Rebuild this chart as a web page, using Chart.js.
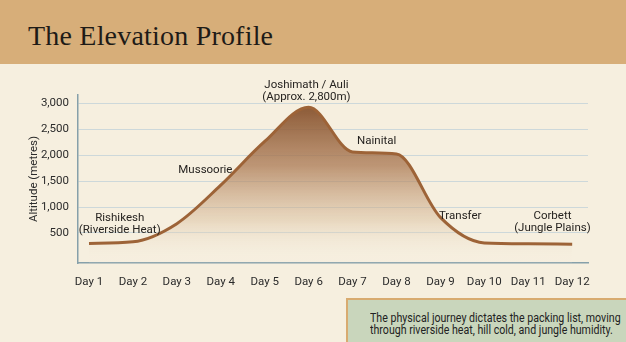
<!DOCTYPE html>
<html lang="en">
<head>
  <meta charset="UTF-8">
  <title>The Elevation Profile</title>
  <script src="https://cdn.jsdelivr.net/npm/chart.js"></script>
  <style>
    html, body { margin: 0; padding: 0; }
    body { width: 626px; height: 342px; position: relative; overflow: hidden; background: #f6efdf; font-family: Roboto, sans-serif; }
    .header { position: absolute; left: 0; top: 0; width: 626px; height: 64px; background: #d7ae79; }
    .header h1 { margin: 0; position: absolute; left: 28px; top: 20px; font-family: "Liberation Serif", serif; font-weight: normal; font-size: 28px; color: #1e1b17; letter-spacing: 0.2px; }
    #wrap { position: absolute; left: 0; top: 0; width: 626px; height: 342px; }
    .note { position: absolute; left: 346px; top: 298px; width: 290px; height: 50px; background: #c9d6bc; border-top: 2px solid #d8ab70; border-left: 2px solid #d8ab70; box-sizing: border-box; padding: 13px 0 0 22px; color: #222; }
    .note span { display: block; white-space: nowrap; font-size: 12px; line-height: 11.5px; transform: scaleX(0.885); transform-origin: left top; }
  </style>
</head>
<body>
  <div class="header"><h1>The Elevation Profile</h1></div>
  <div id="wrap"><canvas id="elevationChart" width="626" height="342"></canvas></div>
  <div class="note"><span>The physical journey dictates the packing list, moving<br>through riverside heat, hill cold, and jungle humidity.</span></div>

  <script>
    const days = ['Day 1', 'Day 2', 'Day 3', 'Day 4', 'Day 5', 'Day 6', 'Day 7', 'Day 8', 'Day 9', 'Day 10', 'Day 11', 'Day 12'];
    const altitude = [300, 330, 680, 1420, 2260, 2920, 2060, 2020, 800, 310, 295, 285];
    const yTicks = [500, 1000, 1500, 2000, 2500, 3000];

    // place names, at (day index, altitude)
    const places = [
      { x: 0.7, y: 780, lines: ['Rishikesh', '(Riverside Heat)'] },
      { x: 2.65, y: 1710, lines: ['Mussoorie'] },
      { x: 4.95, y: 3340, lines: ['Joshimath / Auli', '(Approx. 2,800m)'] },
      { x: 6.55, y: 2270, lines: ['Nainital'] },
      { x: 8.45, y: 830, lines: ['Transfer'] },
      { x: 10.55, y: 830, lines: ['Corbett', '(Jungle Plains)'] }
    ];

    const labelFont = 'Roboto, sans-serif';

    const placeLabels = {
      id: 'placeLabels',
      afterDatasetsDraw(chart) {
        const { ctx, scales } = chart;
        ctx.save();
        ctx.font = '11.5px ' + labelFont;
        ctx.fillStyle = '#262320';
        ctx.textAlign = 'center';
        ctx.textBaseline = 'middle';
        places.forEach(p => {
          const px = scales.x.getPixelForValue(p.x);
          const py = scales.y.getPixelForValue(p.y);
          p.lines.forEach((t, i) => ctx.fillText(t, px, py + i * 12));
        });
        ctx.restore();
      }
    };

    function areaGradient(context) {
      const { ctx, chartArea, scales } = context.chart;
      if (!chartArea) return 'rgba(160,110,70,0.5)';
      const top = scales.y.getPixelForValue(2950);
      const g = ctx.createLinearGradient(0, top, 0, chartArea.bottom - 6);
      g.addColorStop(0, 'rgba(135,84,48,0.97)');
      g.addColorStop(0.4, 'rgba(170,120,82,0.75)');
      g.addColorStop(0.75, 'rgba(215,186,152,0.48)');
      g.addColorStop(1, 'rgba(246,239,223,0.1)');
      return g;
    }

    new Chart(document.getElementById('elevationChart'), {
      type: 'line',
      data: {
        datasets: [{
          label: 'Altitude',
          data: altitude.map((v, i) => ({ x: i, y: v })),
          borderColor: '#9d6337',
          borderWidth: 3,
          backgroundColor: areaGradient,
          fill: 'start',
          cubicInterpolationMode: 'monotone',
          pointRadius: 0
        }]
      },
      options: {
        responsive: false,
        animation: false,
        layout: { padding: { left: 0, top: 95, right: 38, bottom: 49 } },
        plugins: { legend: { display: false }, tooltip: { enabled: false } },
        scales: {
          x: {
            type: 'linear',
            min: -0.25,
            max: 11.36,
            afterBuildTicks: axis => { axis.ticks = days.map((d, i) => ({ value: i })); },
            afterFit: axis => { axis.height = 30; },
            grid: { display: false, drawTicks: false },
            border: { display: true, color: '#86a0aa', width: 1.5 },
            ticks: {
              callback: v => days[v],
              color: '#2b2b2b',
              font: { family: labelFont, size: 11.5 },
              padding: 12,
              maxRotation: 0,
              autoSkip: false
            }
          },
          y: {
            min: -77,
            max: 3154,
            afterBuildTicks: axis => { axis.ticks = yTicks.map(v => ({ value: v })); },
            afterFit: axis => { axis.width = 78; },
            grid: { color: '#cdd8da', lineWidth: 1, drawTicks: false },
            border: { display: true, color: '#86a0aa', width: 1.5 },
            ticks: {
              callback: v => v.toLocaleString('en-US'),
              color: '#2b2b2b',
              font: { family: labelFont, size: 11.5 },
              padding: 9
            },
            title: {
              display: true,
              text: 'Altitude (metres)',
              color: '#2b2b2b',
              font: { family: labelFont, size: 11.5 },
              padding: { top: 27, bottom: 0 }
            }
          }
        }
      },
      plugins: [placeLabels]
    });
  </script>
</body>
</html>
